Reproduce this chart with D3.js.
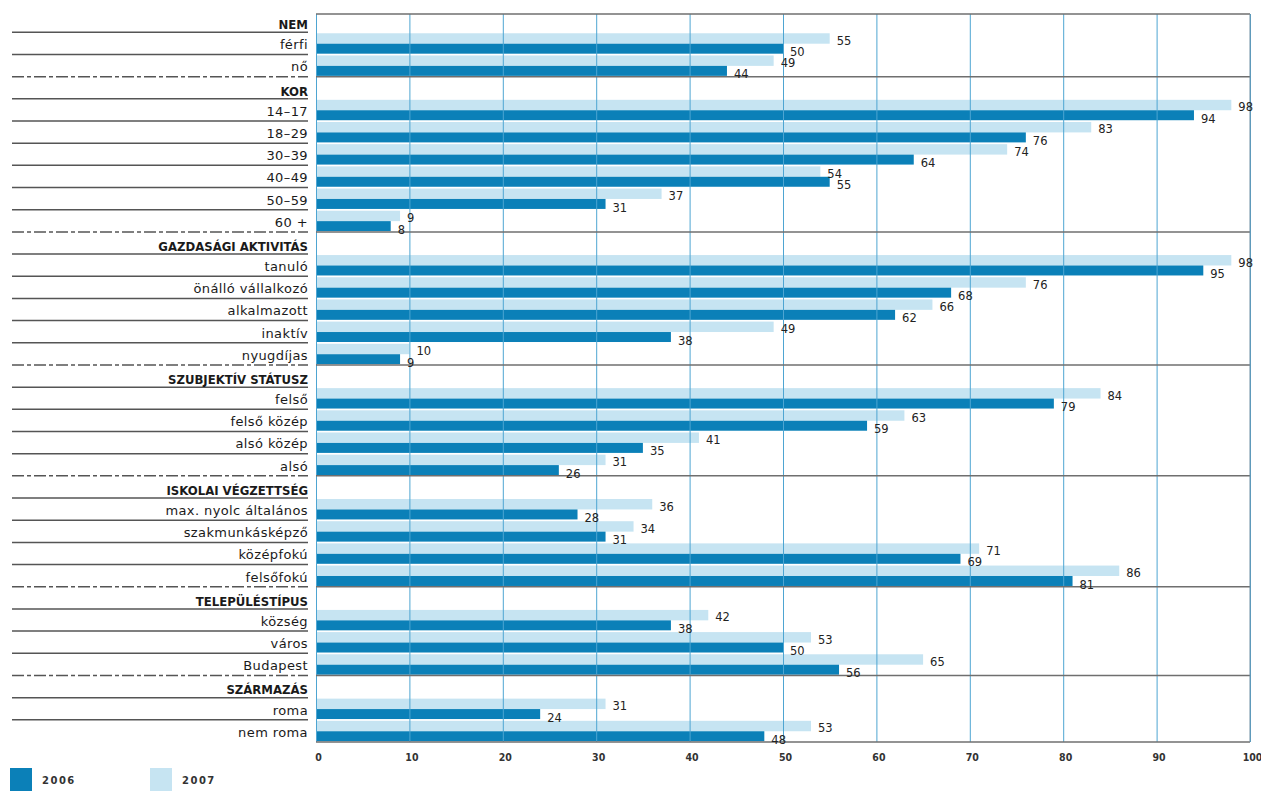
<!DOCTYPE html>
<html>
<head>
<meta charset="utf-8">
<script src="https://cdn.jsdelivr.net/npm/d3@7"></script>
<style>
  body { margin: 0; background: #fff; }
  .lbl { font-family: "DejaVu Sans", Verdana, sans-serif; font-size: 13px; fill: #1a1a1a; letter-spacing: 0.4px; }
  .hdr { font-family: "DejaVu Sans Condensed", "DejaVu Sans", sans-serif; font-weight: bold; font-size: 13px; fill: #1a1a1a; }
  .val { font-family: "DejaVu Sans", Verdana, sans-serif; font-size: 11.5px; fill: #222; }
  .x.axis text { font-family: "DejaVu Sans Condensed", "DejaVu Sans", sans-serif; font-weight: bold; font-size: 10.5px; fill: #333; }
  .leg { font-family: "DejaVu Sans", sans-serif; font-weight: bold; font-size: 10px; fill: #333; letter-spacing: 1.5px; }
</style>
</head>
<body>
<div id="chart"></div>
<script>
// group headers and their items
var groupNames = ["NEM", "KOR", "GAZDASÁGI AKTIVITÁS", "SZUBJEKTÍV STÁTUSZ", "ISKOLAI VÉGZETTSÉG", "TELEPÜLÉSTÍPUS", "SZÁRMAZÁS"];
var groupItems = [
  ["férfi", "nő"],
  ["14–17", "18–29", "30–39", "40–49", "50–59", "60 +"],
  ["tanuló", "önálló vállalkozó", "alkalmazott", "inaktív", "nyugdíjas"],
  ["felső", "felső közép", "alsó közép", "alsó"],
  ["max. nyolc általános", "szakmunkásképző", "középfokú", "felsőfokú"],
  ["község", "város", "Budapest"],
  ["roma", "nem roma"]
];

// values in item order
var values2006 = [50, 44,  94, 76, 64, 55, 31, 8,  95, 68, 62, 38, 9,  79, 59, 35, 26,  28, 31, 69, 81,  38, 50, 56,  24, 48];
var values2007 = [55, 49,  98, 83, 74, 54, 37, 9,  98, 76, 66, 49, 10, 84, 63, 41, 31,  36, 34, 71, 86,  42, 53, 65,  31, 53];

var seriesNames = ["2006", "2007"];
var seriesColors = ["#0b80b8", "#c6e4f2"];
var xTicks = [0, 10, 20, 30, 40, 50, 60, 70, 80, 90, 100];

// build flat list of rows (headers + items)
var rows = [];
var k = 0;
groupNames.forEach(function(g, gi) {
  rows.push({ label: g, header: true });
  groupItems[gi].forEach(function(it) {
    rows.push({ label: it, header: false, v2006: values2006[k], v2007: values2007[k] });
    k++;
  });
});

var width = 1261, height = 796;
var labelRight = 308, labelLeft = 12;
var plotTop = 14, plotBottom = 742;

var svg = d3.select("#chart").append("svg")
    .attr("width", width)
    .attr("height", height);

var xScale = d3.scaleLinear()
    .domain([0, 100])
    .range([316, 1250]);

var yScale = d3.scaleBand()
    .domain(d3.range(rows.length))
    .range([10.1, plotBottom]);

var rowH = yScale.bandwidth();

// bars
var dataRows = rows.map(function(r, i) { r.i = i; return r; }).filter(function(r) { return !r.header; });

svg.selectAll(".bar2007")
    .data(dataRows)
  .enter().append("rect")
    .attr("class", "bar2007")
    .attr("x", xScale(0))
    .attr("y", function(d) { return yScale(d.i) + 1; })
    .attr("width", function(d) { return xScale(d.v2007) - xScale(0); })
    .attr("height", rowH * 0.47)
    .style("fill", seriesColors[1]);

svg.selectAll(".bar2006")
    .data(dataRows)
  .enter().append("rect")
    .attr("class", "bar2006")
    .attr("x", xScale(0))
    .attr("y", function(d) { return yScale(d.i) + 1 + rowH * 0.47; })
    .attr("width", function(d) { return xScale(d.v2006) - xScale(0); })
    .attr("height", rowH * 0.45)
    .style("fill", seriesColors[0]);

// vertical grid lines
svg.append("g")
    .attr("class", "grid")
    .attr("transform", "translate(0," + plotBottom + ")")
    .call(d3.axisBottom(xScale).tickValues(xTicks).tickSize(-(plotBottom - plotTop)).tickFormat(""))
    .call(function(g) { g.select(".domain").remove(); })
    .selectAll("line")
    .style("stroke", "#4ea5d2")
    .style("stroke-width", 1);

// horizontal lines in the plot: top, group boundaries, bottom
var groupStarts = rows.filter(function(r) { return r.header && r.i > 0; }).map(function(r) { return yScale(r.i); });
var plotLines = [plotTop].concat(groupStarts).concat([plotBottom]);
svg.selectAll(".hline")
    .data(plotLines)
  .enter().append("line")
    .attr("class", "hline")
    .attr("x1", xScale(0))
    .attr("x2", xScale(100))
    .attr("y1", function(d) { return d; })
    .attr("y2", function(d) { return d; })
    .style("stroke", "#6f6f6f")
    .style("stroke-width", 1.5);

// right border
svg.append("line")
    .attr("x1", xScale(100)).attr("x2", xScale(100))
    .attr("y1", plotTop).attr("y2", plotBottom)
    .style("stroke", "#6f8fa3")
    .style("stroke-width", 1);

// label area separators
svg.selectAll(".sep")
    .data(rows.slice(1))
  .enter().append("line")
    .attr("class", "sep")
    .attr("x1", labelLeft)
    .attr("x2", labelRight)
    .attr("y1", function(d) { return yScale(d.i); })
    .attr("y2", function(d) { return yScale(d.i); })
    .style("stroke", "#555")
    .style("stroke-width", 1.5)
    .style("stroke-dasharray", function(d) { return d.header ? "12,3,4,3" : null; });

// row labels
svg.selectAll(".rowlabel")
    .data(rows)
  .enter().append("text")
    .attr("class", function(d) { return d.header ? "hdr" : "lbl"; })
    .attr("x", labelRight)
    .attr("y", function(d) { return yScale(d.i) + (d.header ? 19 : 17); })
    .style("text-anchor", "end")
    .text(function(d) { return d.label; });

// value labels
svg.selectAll(".val2007")
    .data(dataRows)
  .enter().append("text")
    .attr("class", "val")
    .attr("x", function(d) { return xScale(d.v2007) + 7; })
    .attr("y", function(d) { return yScale(d.i) + 12.5; })
    .text(function(d) { return d.v2007; });

svg.selectAll(".val2006")
    .data(dataRows)
  .enter().append("text")
    .attr("class", "val")
    .attr("x", function(d) { return xScale(d.v2006) + 7; })
    .attr("y", function(d) { return yScale(d.i) + 24; })
    .text(function(d) { return d.v2006; });

// x axis labels
svg.append("g")
    .attr("class", "x axis")
    .attr("transform", "translate(2," + plotBottom + ")")
    .call(d3.axisBottom(xScale).tickValues(xTicks).tickSize(0).tickPadding(12))
    .call(function(g) { g.select(".domain").remove(); });

// legend
var legend = svg.selectAll(".legend")
    .data(seriesNames)
  .enter().append("g")
    .attr("class", "legend")
    .attr("transform", function(d, i) { return "translate(" + (10 + i * 140) + ",768)"; });

legend.append("rect")
    .attr("width", 22)
    .attr("height", 23)
    .style("fill", function(d, i) { return seriesColors[i]; });

legend.append("text")
    .attr("class", "leg")
    .attr("x", 32)
    .attr("y", 16)
    .text(function(d) { return d; });
</script>
</body>
</html>
